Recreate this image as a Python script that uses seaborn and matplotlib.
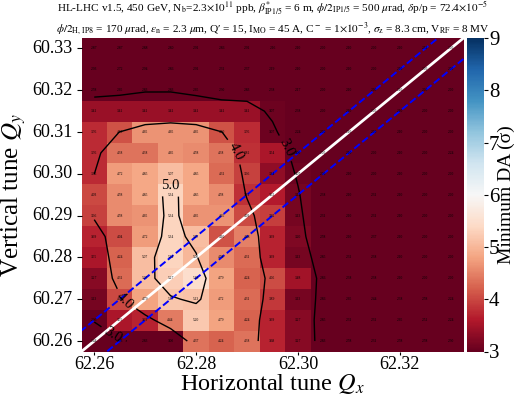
import numpy as np
import pandas as pd
import seaborn as sns
from matplotlib import pyplot as plt

# tune grid (rows from top to bottom)
qx = [62.26, 62.265, 62.27, 62.275, 62.28, 62.285, 62.29, 62.295,
      62.30, 62.305, 62.31, 62.315, 62.32, 62.325, 62.33]
qy = [60.33, 60.325, 60.32, 60.315, 60.31, 60.305, 60.30, 60.295,
      60.29, 60.285, 60.28, 60.275, 60.27, 60.265, 60.26]

# minimum DA (sigma)
min_da = [
    [2.87, 2.87, 2.88, 2.80, 2.91, 2.86, 2.91, 2.16, 2.10, 2.00, 2.10, 2.00, 2.10, 2.51, 2.00],
    [2.93, 2.72, 2.94, 2.86, 2.91, 2.31, 2.37, 2.19, 2.10, 2.00, 2.10, 2.00, 2.10, 2.00, 2.00],
    [2.58, 2.65, 2.83, 2.83, 2.65, 2.30, 2.83, 2.38, 2.17, 2.00, 2.10, 2.00, 2.10, 2.00, 2.00],
    [3.41, 3.41, 3.41, 3.41, 3.41, 3.41, 3.41, 3.07, 2.38, 2.00, 2.10, 2.00, 2.10, 2.00, 2.00],
    [3.76, 4.10, 4.65, 4.65, 4.65, 4.10, 3.76, 3.07, 2.24, 2.00, 2.10, 2.00, 2.10, 2.00, 2.00],
    [3.76, 4.38, 4.38, 4.65, 4.58, 4.38, 3.82, 3.54, 3.00, 2.00, 2.10, 2.00, 2.10, 2.00, 2.24],
    [3.76, 4.72, 4.85, 5.07, 4.85, 4.31, 3.96, 3.34, 3.07, 2.00, 2.10, 2.00, 2.10, 2.00, 2.00],
    [4.03, 4.58, 4.85, 5.34, 4.85, 4.58, 3.82, 3.62, 3.13, 2.38, 2.10, 2.31, 2.10, 2.00, 2.00],
    [3.96, 4.58, 4.65, 5.34, 4.65, 4.65, 4.03, 3.92, 3.13, 2.31, 2.10, 2.31, 2.10, 2.00, 2.00],
    [3.69, 4.04, 4.72, 5.34, 5.07, 4.10, 4.48, 3.69, 3.20, 2.58, 2.10, 2.37, 2.10, 2.00, 2.00],
    [3.55, 4.24, 5.07, 5.34, 5.00, 4.58, 4.31, 3.69, 3.13, 2.85, 2.31, 2.38, 2.10, 2.00, 2.00],
    [3.27, 4.31, 5.07, 5.27, 5.48, 4.79, 4.24, 4.05, 3.48, 2.86, 2.38, 2.38, 2.10, 2.00, 2.00],
    [3.13, 4.03, 4.79, 5.17, 5.13, 4.72, 4.31, 3.89, 3.13, 2.86, 2.65, 2.44, 2.38, 2.58, 2.24],
    [2.96, 3.55, 3.69, 4.44, 5.20, 4.79, 4.24, 3.69, 3.27, 2.85, 2.31, 2.31, 2.65, 2.51, 2.24],
    [2.44, 2.93, 2.83, 3.00, 4.37, 4.24, 4.38, 3.68, 3.27, 2.83, 2.58, 2.31, 2.58, 2.58, 2.30],
]

xtick_labels = ['62.26', '62.28', '62.30', '62.32']
ytick_labels = ['60.33', '60.32', '60.31', '60.30', '60.29', '60.28', '60.27', '60.26']
contour_levels = [3, 4, 5]

title = (r"HL-LHC v1.5, 450 GeV, N$_\mathrm{b}$=2.3$\times10^{11}$ ppb, "
         r"$\beta^{*}_\mathrm{IP1/5}$ = 6 m, $\phi/2_\mathrm{IP1/5}$ = 500 $\mu$rad, "
         r"$\delta$p/p = 72.4$\times10^{-5}$" "\n"
         r"$\phi/2_\mathrm{H,\,IP8}$ = 170 $\mu$rad, $\epsilon_\mathrm{n}$ = 2.3 $\mu$m, "
         "Q\u2032 = 15, "
         r"I$_\mathrm{MO}$ = 45 A, C$^-$ = 1$\times10^{-3}$, "
         r"$\sigma_\mathrm{z}$ = 8.3 cm, V$_\mathrm{RF}$ = 8 MV")

plt.rcParams['font.family'] = ['Liberation Serif', 'DejaVu Serif']
plt.rcParams['mathtext.fontset'] = 'stix'

dq = 0.005


def to_u(x):  # horizontal tune -> heatmap column coordinate
    return (np.asarray(x) - qx[0]) / dq + 0.5


def to_v(y):  # vertical tune -> heatmap row coordinate
    return (qy[0] - np.asarray(y)) / dq + 0.5


def smooth(z, sigma=0.7):  # gaussian smoothing for the contour lines
    r = int(4 * sigma + 0.5)
    k = np.exp(-0.5 * (np.arange(-r, r + 1) / sigma) ** 2)
    k /= k.sum()
    zp = np.pad(z, r, mode='symmetric')
    zp = np.apply_along_axis(lambda m: np.convolve(m, k, mode='valid'), 0, zp)
    return np.apply_along_axis(lambda m: np.convolve(m, k, mode='valid'), 1, zp)


df = pd.DataFrame(min_da, index=qy, columns=qx)

fig = plt.figure(figsize=(5.16, 3.96), dpi=100)
ax = fig.add_axes([81.5 / 516, 44.5 / 396, 382 / 516, 313.5 / 396])
cax = fig.add_axes([467 / 516, 44.5 / 396, 16.5 / 516, 313.5 / 396])

sns.heatmap(df, ax=ax, cbar_ax=cax, cmap='RdBu', vmin=3, vmax=9,
            annot=True, fmt='.2f', annot_kws={'size': 2.6, 'color': 'black'})

n = len(qx)
grid = np.arange(n) + 0.5
cs = ax.contour(grid, grid, smooth(df.to_numpy()), levels=contour_levels,
                colors='black', linewidths=1.0)
ax.clabel(cs, inline=True, fontsize=10.5, fmt='%.1f',
          manual=[(3.44, 6.98), (6.03, 5.45), (7.83, 5.40), (1.71, 12.53), (1.43, 13.87)])

# coupling resonance Qx - Qy = 2 and +-0.005 band
xs = np.array([62.24, 62.35])
ax.plot(to_u(xs), to_v(xs - 2), color='white', lw=2)
ax.plot(to_u(xs), to_v(xs - 2 + 0.005), color='blue', ls='--', lw=1.4)
ax.plot(to_u(xs), to_v(xs - 2 - 0.005), color='blue', ls='--', lw=1.4)
ax.set_xlim(0, n)
ax.set_ylim(n, 0)

ax.set_xticks(to_u([float(t) for t in xtick_labels]))
ax.set_xticklabels(xtick_labels, rotation=0, fontsize=13)
ax.set_yticks(to_v([float(t) for t in ytick_labels]))
ax.set_yticklabels(ytick_labels, rotation=0, fontsize=13)
ax.tick_params(axis='x', length=2.5, pad=1)
ax.tick_params(axis='y', length=3.5, pad=3)
ax.set_xlabel(r'Horizontal tune $Q_x$', fontsize=17.5, labelpad=-1)
ax.set_ylabel(r'Vertical tune $Q_y$', fontsize=18, labelpad=3)
ax.set_title(title, fontsize=8.1, pad=3, linespacing=1.3)

cax.set_yticks([3, 4, 5, 6, 7, 8, 9])
cax.tick_params(labelsize=15, length=3, pad=1)
cax.set_ylabel('Minimum DA (\u03c3)', fontsize=14, labelpad=-1)

plt.savefig('out.png', dpi=100)
